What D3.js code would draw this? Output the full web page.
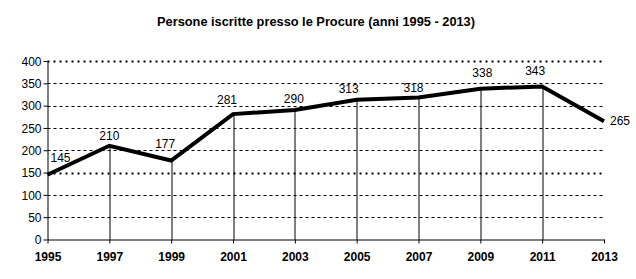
<!DOCTYPE html>
<html>
<head>
<meta charset="utf-8">
<script src="https://cdn.jsdelivr.net/npm/d3@7"></script>
<style>
  body { margin: 0; background: #fff; }
  text { font-family: Arial, "Liberation Sans", sans-serif; fill: #000; }
</style>
</head>
<body>
<div id="chart"></div>
<script>
// chart data
var years = [1995, 1997, 1999, 2001, 2003, 2005, 2007, 2009, 2011, 2013];
var persons = [145, 210, 177, 281, 290, 313, 318, 338, 343, 265];
var yTicks = [0, 50, 100, 150, 200, 250, 300, 350, 400];
var boldGrid = [150, 400];
var title = "Persone iscritte presso le Procure (anni 1995 - 2013)";

// label nudges (px) relative to each point, as Excel placed them
var labelDx = [3, 0, -6, -6, -1, -8, -5, 2, -7, 6];
var labelDy = [-13, -6, -13, -10, -7, -7, -6, -12, -11, 4];

var svgWidth = 636;
var svgHeight = 279;
var margin = { top: 61, right: 32, bottom: 39.5, left: 47.5 };
var width = svgWidth - margin.left - margin.right;
var height = svgHeight - margin.top - margin.bottom;

var svg = d3.select("#chart").append("svg")
  .attr("width", svgWidth)
  .attr("height", svgHeight);

svg.append("text")
  .attr("x", 157)
  .attr("y", 26)
  .attr("textLength", 318)
  .attr("lengthAdjust", "spacingAndGlyphs")
  .style("font-weight", "bold")
  .style("font-size", "12.5px")
  .text(title);

var g = svg.append("g")
  .attr("transform", `translate(${margin.left}, ${margin.top})`);

var x = d3.scaleLinear().domain([1995, 2013]).range([0, width]);
var y = d3.scaleLinear().domain([0, 400]).range([height, 0]);

// horizontal grid
g.selectAll(".grid")
  .data(yTicks.filter(d => d > 0))
  .enter().append("line")
  .attr("x1", 0)
  .attr("x2", width)
  .attr("y1", d => Math.round(y(d)) + 0.5)
  .attr("y2", d => Math.round(y(d)) + 0.5)
  .attr("stroke", "#000")
  .attr("stroke-width", d => boldGrid.includes(d) ? 2 : 1)
  .attr("stroke-dasharray", d => boldGrid.includes(d) ? "2,4" : "3,3");

// drop lines
g.selectAll(".drop")
  .data(years.slice(1, -1))
  .enter().append("line")
  .attr("x1", (d) => Math.round(x(d)) + 0.5)
  .attr("x2", (d) => Math.round(x(d)) + 0.5)
  .attr("y1", height)
  .attr("y2", (d, i) => y(persons[i + 1]))
  .attr("stroke", "#000")
  .attr("stroke-width", 1);

// axes
var leftAxis = d3.axisLeft(y).tickValues(yTicks).tickSize(4).tickPadding(2).tickSizeOuter(0);
var bottomAxis = d3.axisBottom(x).tickValues(years).tickFormat(d3.format("d")).tickSize(4).tickPadding(9).tickSizeOuter(0);

var yAxis = g.append("g").call(leftAxis);
yAxis.selectAll("text").style("font-size", "12px").attr("dy", "0.35em");

var xAxis = g.append("g")
  .attr("transform", `translate(0, ${height})`)
  .call(bottomAxis);
xAxis.selectAll("text").style("font-size", "12px").style("font-weight", "bold");

g.selectAll(".domain, .tick line").attr("stroke", "#000");

// line
var line = d3.line()
  .x((d, i) => x(years[i]))
  .y(d => y(d));

g.append("path")
  .datum(persons)
  .attr("fill", "none")
  .attr("stroke", "#000")
  .attr("stroke-width", 4)
  .attr("stroke-linejoin", "miter")
  .attr("d", line);

// value labels
var last = persons.length - 1;
g.selectAll(".label")
  .data(persons)
  .enter().append("text")
  .attr("x", (d, i) => x(years[i]) + labelDx[i])
  .attr("y", (d, i) => y(d) + labelDy[i])
  .attr("text-anchor", (d, i) => i === 0 || i === last ? "start" : "middle")
  .style("font-size", "12px")
  .text(d => d);
</script>
</body>
</html>
